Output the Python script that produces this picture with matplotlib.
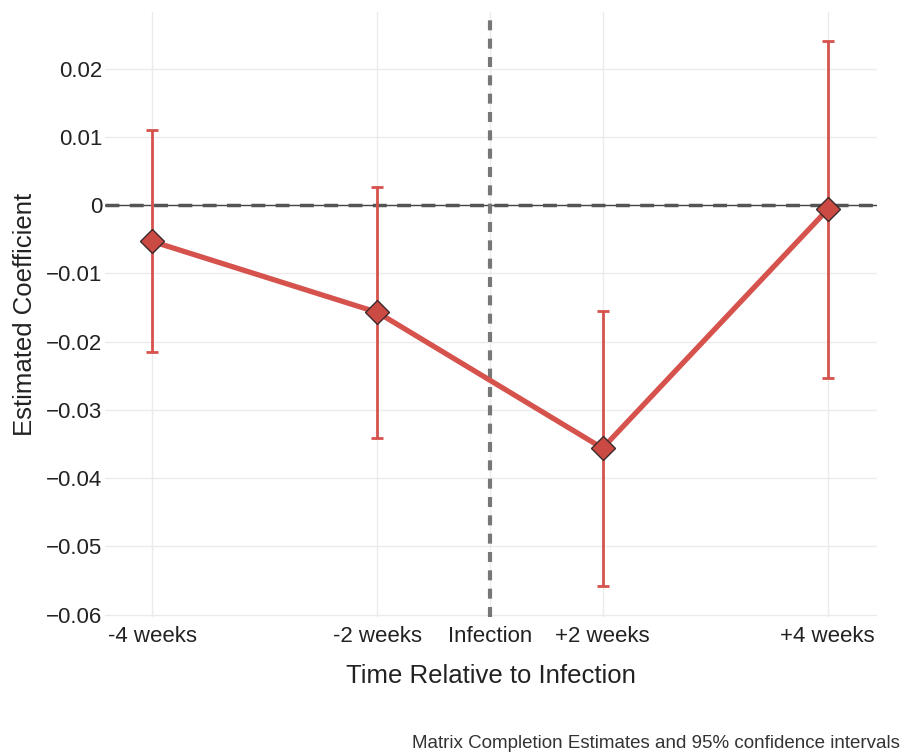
import numpy as np
import matplotlib.pyplot as plt

plt.rcParams['font.family'] = ['Liberation Sans', 'DejaVu Sans']

# event-study estimates (periods of 2 weeks relative to infection)
periods = ['-4 weeks', '-2 weeks', '+2 weeks', '+4 weeks']
estimates = [-0.0053, -0.0157, -0.0356, -0.0006]
ci_low = [-0.0215, -0.0341, -0.0558, -0.0253]
ci_high = [0.0110, 0.0027, -0.0155, 0.0240]
infection_label = 'Infection'

red = '#d6524d'

fig = plt.figure(figsize=(9.12, 7.54), dpi=100)
ax = fig.add_axes([0.115, 0.182, 0.847, 0.802])

pos = np.array([0, 1, 2, 3])
inf_pos = 1.5

est = np.array(estimates)
yerr = [est - np.array(ci_low), np.array(ci_high) - est]

ax.axhline(0, color='#444444', lw=1.0, zorder=1)
ax.axhline(0, color='#555555', lw=2.5, ls=(0, (4, 3)), zorder=1)
ax.axvline(inf_pos, color='#777777', lw=3, ls=(0, (2.4, 2)), zorder=1)

ax.errorbar(pos, est, yerr=yerr, fmt='none', ecolor=red, elinewidth=2,
            capsize=4, capthick=2, zorder=2)
ax.plot(pos, est, color=red, lw=3.8, zorder=3)
ax.plot(pos, est, ls='none', marker='D', ms=12, mfc='#cc4a44',
        mec='#3a2a2a', mew=1.0, zorder=4)

ax.set_xlim(-0.21, 3.22)
ax.set_ylim(-0.0603, 0.0283)
ax.set_xticks(list(pos[:2]) + [inf_pos] + list(pos[2:]))
ax.set_xticklabels(periods[:2] + [infection_label] + periods[2:])
yt = [0.02, 0.01, 0, -0.01, -0.02, -0.03, -0.04, -0.05, -0.06]
ax.set_yticks(yt)
ax.set_yticklabels(['0' if v == 0 else f'{v:.2f}'.replace('-', '\u2212') for v in yt])

ax.tick_params(length=0, labelsize=16, colors='#222222')
ax.tick_params(axis='y', pad=2)
ax.tick_params(axis='x', pad=7)
ax.grid(True, color='#ebebeb', lw=1)
ax.set_axisbelow(True)
for s in ax.spines.values():
    s.set_visible(False)

ax.set_xlabel('Time Relative to Infection', fontsize=18.5, color='#222222', labelpad=12)
ax.set_ylabel('Estimated Coefficient', fontsize=18.5, color='#222222', labelpad=6)

fig.text(0.987, 0.003, 'Matrix Completion Estimates and 95% confidence intervals',
         ha='right', va='bottom', fontsize=13.5, color='#333333')

fig.savefig('out.png', dpi=100)
